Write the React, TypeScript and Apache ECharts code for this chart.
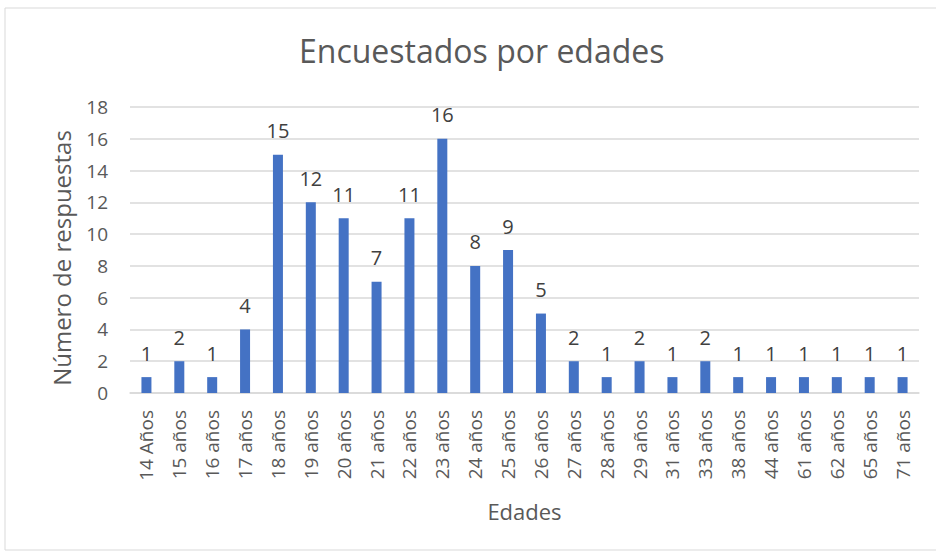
import React, { useEffect, useRef } from "react";
import * as echarts from "echarts";

const categories = ["14 Años", "15 años", "16 años", "17 años", "18 años", "19 años", "20 años", "21 años", "22 años", "23 años", "24 años", "25 años", "26 años", "27 años", "28 años", "29 años", "31 años", "33 años", "38 años", "44 años", "61 años", "62 años", "65 años", "71 años"];
const values = [1, 2, 1, 4, 15, 12, 11, 7, 11, 16, 8, 9, 5, 2, 1, 2, 1, 2, 1, 1, 1, 1, 1, 1];

const FONT = "'Open Sans', 'Noto Sans', sans-serif";
const GRAY = "#595959";

export default function App() {
  const ref = useRef<HTMLDivElement>(null);
  useEffect(() => {
    if (!ref.current) return;
    const chart = echarts.init(ref.current, null, { renderer: "svg" });
    chart.setOption({
      animation: false,
      backgroundColor: "#ffffff",
      title: {
        text: "Encuestados por edades",
        left: 294,
        top: 29,
        textStyle: { fontFamily: FONT, fontSize: 32, fontWeight: "normal", color: GRAY },
      },
      graphic: [
        {
          type: "rect",
          shape: { x: 5, y: 8, width: 940, height: 542 },
          style: { fill: "none", stroke: "#d9d9d9", lineWidth: 1 },
          silent: true,
        },
      ],
      grid: { left: 130, right: 17, top: 107, bottom: 161 },
      xAxis: {
        type: "category",
        data: categories,
        name: "Edades",
        nameLocation: "middle",
        nameGap: 107,
        nameTextStyle: { fontFamily: FONT, fontSize: 22, color: GRAY },
        axisLine: { lineStyle: { color: "#d9d9d9", width: 1.5 } },
        axisTick: { show: false },
        axisLabel: { rotate: 90, margin: 17, fontFamily: FONT, fontSize: 19, color: GRAY, interval: 0 },
      },
      yAxis: {
        type: "value",
        min: 0,
        max: 18,
        interval: 2,
        name: "Número de respuestas",
        nameLocation: "middle",
        nameGap: 57,
        nameTextStyle: { fontFamily: FONT, fontSize: 24, color: GRAY, padding: [0, 16, 0, 0] },
        axisLine: { show: false },
        axisTick: { show: false },
        axisLabel: { margin: 22, fontFamily: FONT, fontSize: 19, color: GRAY },
        splitLine: { lineStyle: { color: "#d9d9d9", width: 1.5 } },
      },
      series: [
        {
          type: "bar",
          data: values,
          barWidth: 10,
          itemStyle: { color: "#4472c4" },
          label: {
            show: true,
            position: "top",
            distance: 14,
            fontFamily: FONT,
            fontSize: 20,
            color: "#404040",
          },
        },
      ],
    });
    return () => chart.dispose();
  }, []);
  return <div ref={ref} style={{ position: "fixed", left: 0, top: 0, width: 936, height: 554 }} />;
}
